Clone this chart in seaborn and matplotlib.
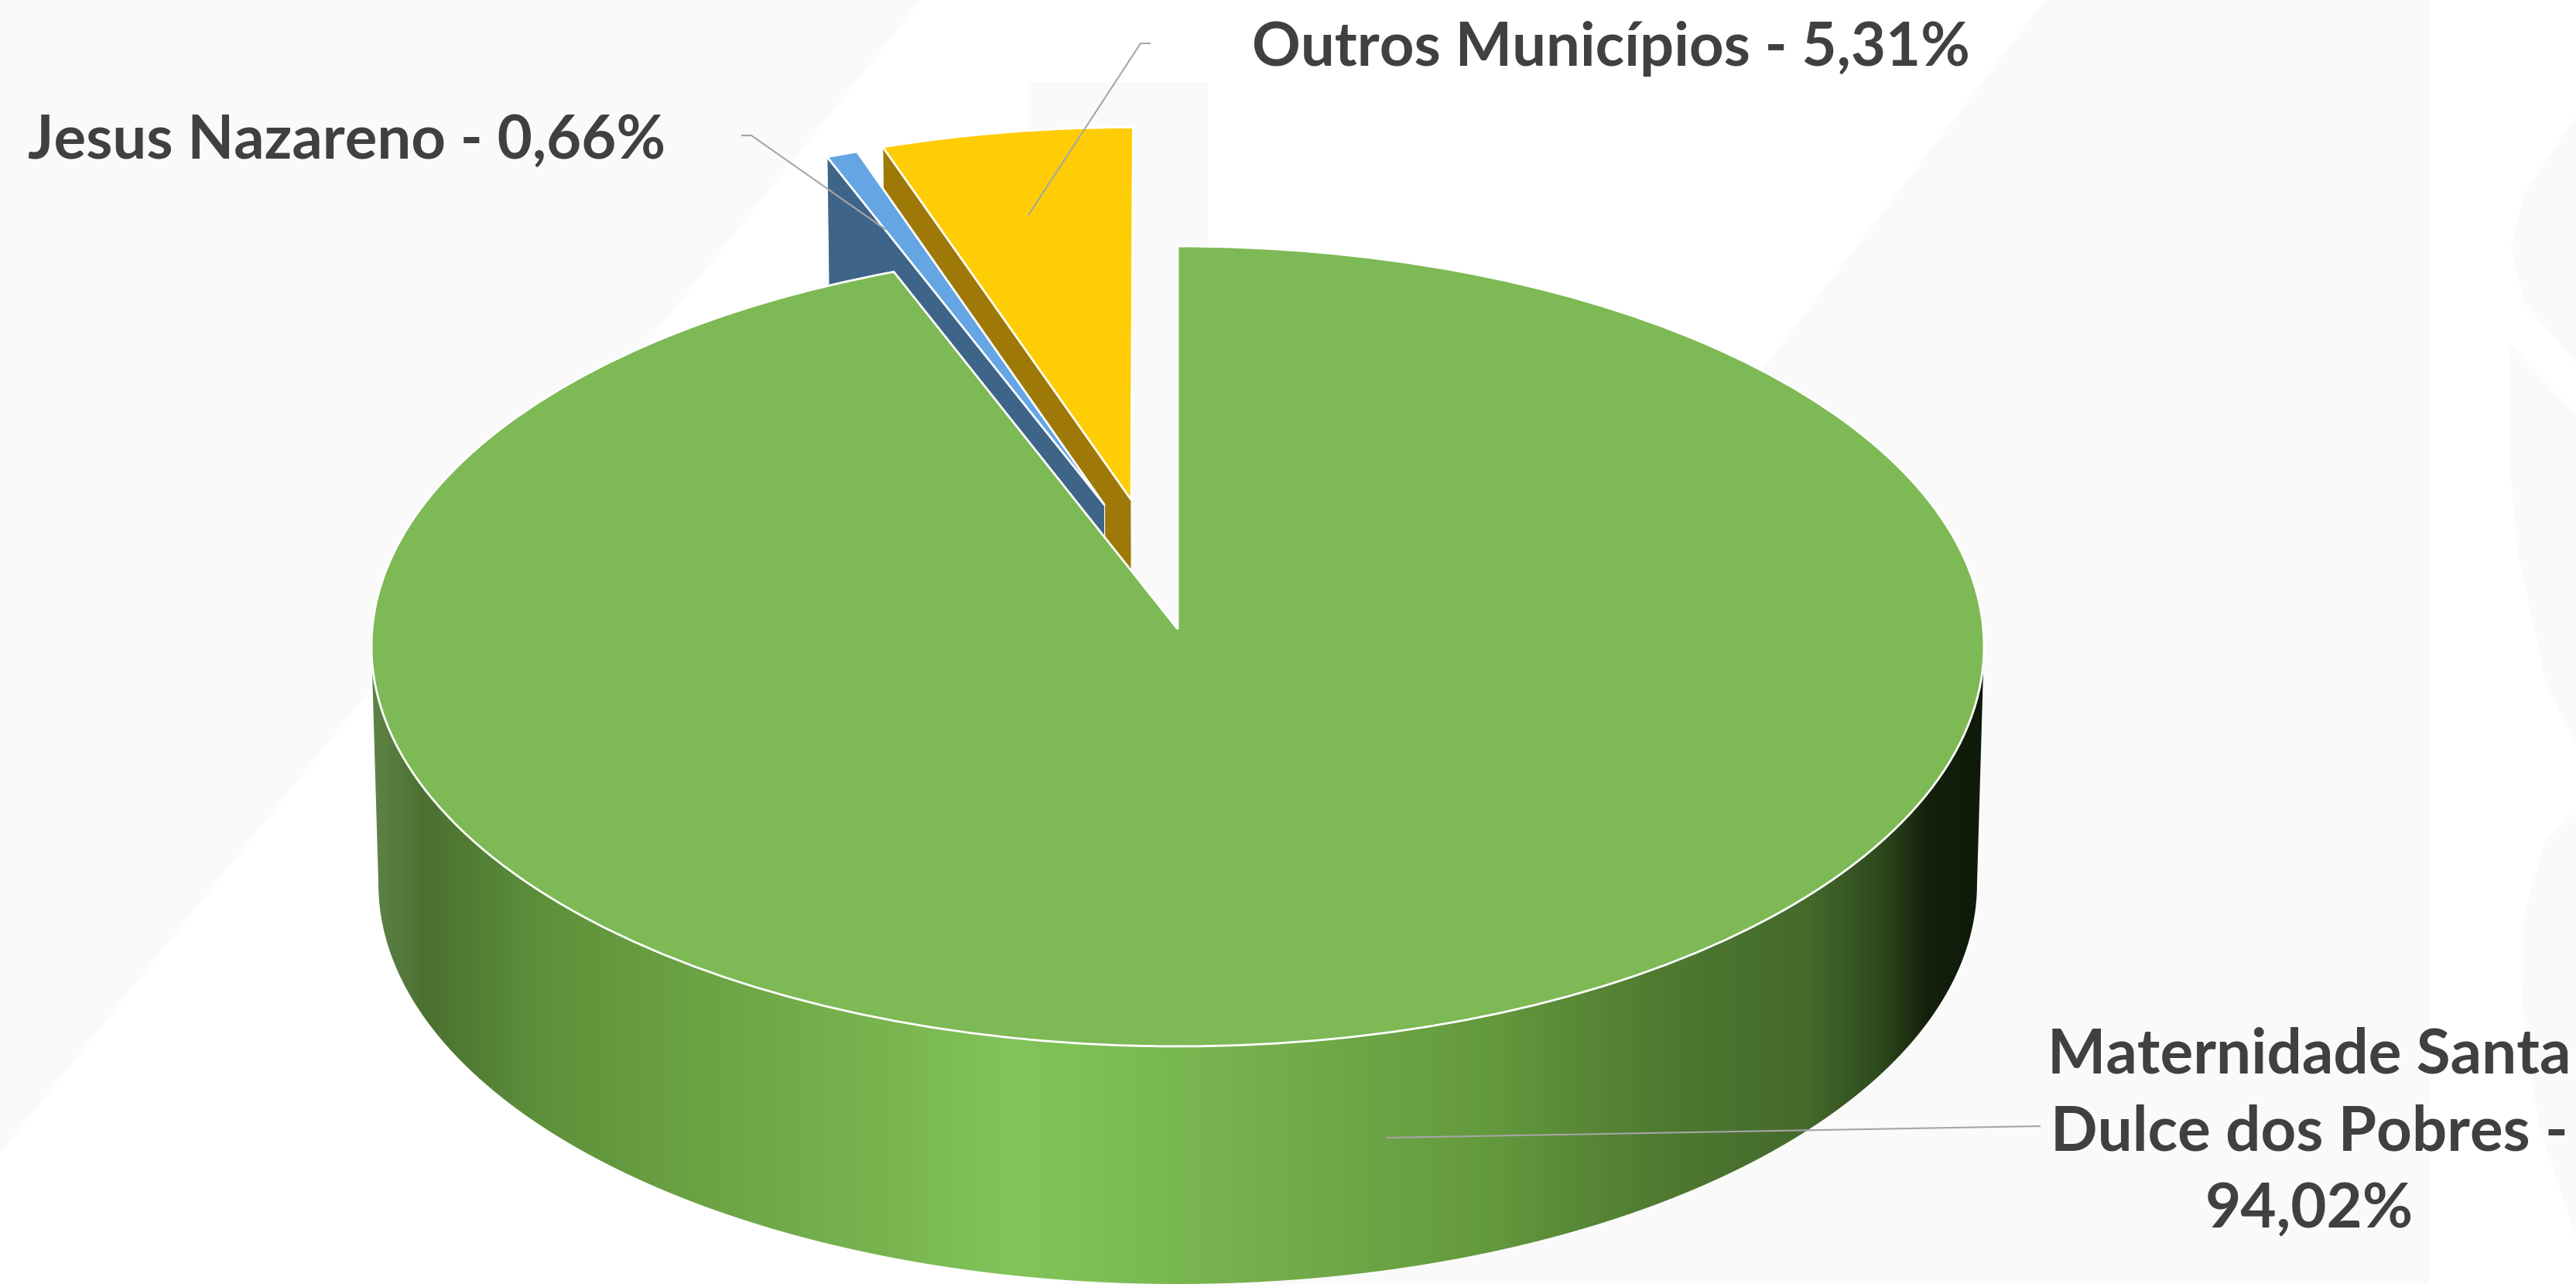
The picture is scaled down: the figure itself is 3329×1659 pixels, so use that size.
import numpy as np
import seaborn as sns
import matplotlib
matplotlib.use("Agg")
import matplotlib.pyplot as plt
from matplotlib.transforms import Transform
from matplotlib.patches import Polygon
from matplotlib.colors import LinearSegmentedColormap

# ---- data ----
categories = ["Maternidade Santa Dulce dos Pobres", "Jesus Nazareno", "Outros Municípios"]
shares = [94.02, 0.66, 5.31]

# ---- style ----
top_colors = ["#7DB954", "#65A5E3", "#FFCD05"]
wall_colors = ["#7DB954", "#3E6488", "#9E7908"]
explode_uv = [(0.0, 0.0), (-0.092, 0.315), (-0.0585, 0.328)]
label_xy = [(2984, 1586), (36, 205), (1618, 85)]
label_wraps = ["Maternidade Santa\nDulce dos Pobres -\n", "", ""]
leaders = [[(1792, 1470), (2637, 1455)],
           [(958, 175), (971, 175), (1145, 297)],
           [(1487, 56), (1474, 56), (1329, 278)]]
TEXT = "#404040"; LEAD = "#A6A6A6"; WM = "#FAFAFA"
CX, TOP_Y, RX, RY = 1522, 813, 1041, 516
LOW_Y, LOW_RX, LOW_RY = 1120, 1032, 516
K = 0.0426

sns.set_theme(style="white")
plt.rcParams["font.family"] = ["Lato", "DejaVu Sans"]
W, H = 3329, 1659
fig = plt.figure(figsize=(W / 100, H / 100), dpi=100, facecolor="white")
ax = fig.add_axes([0, 0, 1, 1])


def project(uv, y0=TOP_Y, rx=RX, ry=RY):
    uv = np.atleast_2d(uv)
    d = 1 + K * uv[:, 1]
    return np.column_stack([CX + rx * uv[:, 0] / d, y0 - ry * uv[:, 1] / d])


def low(uv):
    return project(uv, LOW_Y, LOW_RX, LOW_RY)


class PiePlane(Transform):
    input_dims = output_dims = 2
    has_inverse = False

    def transform_non_affine(self, values):
        return project(values)


wedges, _ = ax.pie(shares, startangle=90, counterclock=False, radius=1, colors=top_colors,
                   wedgeprops=dict(edgecolor="white", linewidth=2.0))

# background watermark shapes
for pts in ([(0, 0), (1190, 0), (0, 1490)],
            [(2643, 0), (3139, 0), (3139, 1659), (1373, 1659)],
            [(1329, 106), (1561, 106), (1561, 900), (1329, 900)],
            [(3329, 150), (3262, 250), (3245, 320), (3262, 390), (3329, 470)],
            [(3243, 445), (3329, 535), (3329, 965), (3290, 880), (3255, 720), (3243, 600)],
            [(3329, 1050), (3290, 1085), (3262, 1180), (3260, 1300), (3280, 1450), (3329, 1600)]):
    ax.add_patch(Polygon(pts, closed=True, fc=WM, ec="none", zorder=0))

plane = PiePlane() + ax.transData
theta_order = {2: 1, 1: 3, 0: 6}
for i, w in enumerate(wedges):
    w.set_center(explode_uv[i])
    w.set_transform(plane)
    w.set_clip_on(False)
    w.set_zorder(theta_order[i] + 1)
    if i > 0:  # flat radial side face of the pulled-out slices
        t = np.deg2rad(w.theta2)
        c = np.array(explode_uv[i])
        o = c + np.array([np.cos(t), np.sin(t)])
        quad = np.vstack([project(c), project(o), low(o), low(c)])
        ax.add_patch(Polygon(quad, closed=True, fc=wall_colors[i], ec="white", lw=0.8,
                             zorder=theta_order[i]))

# curved wall of the big slice with its horizontal shading
edge = np.degrees(np.arcsin(K))
ang = np.deg2rad(np.linspace(180 + edge, 360 - edge, 400))
rim = np.column_stack([np.cos(ang), np.sin(ang)])
wall = np.vstack([project(rim), low(rim)[::-1]])
wall_patch = Polygon(wall, closed=True, fc="none", ec="none", zorder=5)
ax.add_patch(wall_patch)
stops = [(480, "#5E8348"), (550, "#4C7030"), (689, "#5B8F3A"), (842, "#689E41"), (995, "#70AA48"),
         (1148, "#79B54F"), (1306, "#83C35B"), (1398, "#7EC055"), (1650, "#74AD4B"), (1918, "#649A3E"),
         (2148, "#4F7A30"), (2335, "#446A2C"), (2430, "#2E4A1D"), (2492, "#14200C"), (2570, "#0E1A09")]
x0, x1 = stops[0][0], stops[-1][0]
cmap = LinearSegmentedColormap.from_list("rim", [((x - x0) / (x1 - x0), c) for x, c in stops], N=1024)
im = ax.imshow(np.linspace(0, 1, 1024)[None, :], cmap=cmap, aspect="auto", extent=(x0, x1, H, 0), zorder=5)
im.set_clip_path(wall_patch)

# leaders and labels
for pts in leaders:
    xs, ys = zip(*pts)
    ax.plot(xs, ys, color=LEAD, lw=1.5, zorder=9, solid_capstyle="butt")
for i, cat in enumerate(categories):
    val = f"{shares[i]:.2f}".replace(".", ",") + "%"
    if label_wraps[i]:
        ax.text(*label_xy[i], label_wraps[i] + val, ha="center", va="baseline", fontsize=57.5,
                fontweight="bold", color=TEXT, linespacing=1.43, zorder=10)
    else:
        ax.text(*label_xy[i], f"{cat} - {val}", ha="left", va="baseline", fontsize=56,
                fontweight="bold", color=TEXT, zorder=10)

ax.set_aspect("auto")
ax.set_xlim(0, W)
ax.set_ylim(H, 0)
ax.axis("off")
fig.savefig("out.png", dpi=100, facecolor="white")
